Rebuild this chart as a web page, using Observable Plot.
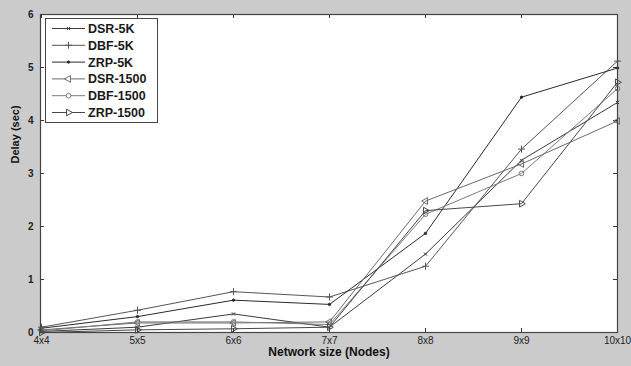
<!DOCTYPE html>
<html>
<head>
<meta charset="utf-8">
<script src="https://cdn.jsdelivr.net/npm/d3@7"></script>
<script src="https://cdn.jsdelivr.net/npm/@observablehq/plot@0.6"></script>
<style>
  html, body { margin: 0; padding: 0; background: #cbcbcb; }
  #chart { position: relative; width: 631px; height: 366px; }
  #legend { position: absolute; left: 0; top: 0; }
</style>
</head>
<body>
<div id="chart"></div>
<script>
// Network sizes (x axis) and delay in seconds per protocol / scenario
const sizes = ["4x4", "5x5", "6x6", "7x7", "8x8", "9x9", "10x10"];
const yTicks = [0, 1, 2, 3, 4, 5, 6];

const seriesNames = ["DSR-5K", "DBF-5K", "ZRP-5K", "DSR-1500", "DBF-1500", "ZRP-1500"];
const dsr5k   = [0.02, 0.10, 0.35, 0.10, 1.48, 3.25, 4.34];
const dbf5k   = [0.10, 0.42, 0.77, 0.67, 1.25, 3.46, 5.12];
const zrp5k   = [0.08, 0.30, 0.61, 0.53, 1.87, 4.44, 4.99];
const dsr1500 = [0.05, 0.18, 0.18, 0.20, 2.48, 3.18, 3.99];
const dbf1500 = [0.03, 0.20, 0.20, 0.15, 2.23, 3.00, 4.60];
const zrp1500 = [0.00, 0.05, 0.07, 0.10, 2.30, 2.43, 4.72];

// Drawing style for each series: stroke, marker symbol, rotation, size, fill
const styles = {
  "DSR-5K":   {stroke: "#3a3a3a", symbol: "times",    rotate: 0,   r: 1.6, fill: "none"},
  "DBF-5K":   {stroke: "#555",    symbol: "plus",     rotate: 0,   r: 2.4, fill: "none"},
  "ZRP-5K":   {stroke: "#2a2a2a", symbol: "circle",   rotate: 0,   r: 1.2, fill: "#2a2a2a"},
  "DSR-1500": {stroke: "#6a6a6a", symbol: "triangle", rotate: -90, r: 2.5, fill: "none"},
  "DBF-1500": {stroke: "#7a7a7a", symbol: "circle",   rotate: 0,   r: 2.3, fill: "none"},
  "ZRP-1500": {stroke: "#484848", symbol: "triangle", rotate: 90,  r: 2.5, fill: "none"}
};

const values = [dsr5k, dbf5k, zrp5k, dsr1500, dbf1500, zrp1500];
const rows = seriesNames.flatMap((name, i) =>
  sizes.map((size, j) => ({series: name, size, delay: values[i][j]}))
);

const W = 631, H = 366;
const mTop = 14, mRight = 14, mBottom = 34, mLeft = 40;
const innerW = W - mLeft - mRight;
const innerH = H - mTop - mBottom;
const tickLen = 4;

const seriesMarks = seriesNames.flatMap(name => {
  const s = styles[name];
  const data = rows.filter(d => d.series === name);
  return [
    Plot.line(data, {x: "size", y: "delay", stroke: s.stroke, strokeWidth: 1}),
    Plot.dot(data, {x: "size", y: "delay", symbol: s.symbol, r: s.r, rotate: s.rotate,
                    stroke: s.stroke, fill: s.fill === "none" ? "white" : s.fill,
                    fillOpacity: s.fill === "none" ? 0 : 1, strokeWidth: 1})
  ];
});

const plot = Plot.plot({
  width: W,
  height: H,
  marginTop: mTop,
  marginRight: mRight,
  marginBottom: mBottom,
  marginLeft: mLeft,
  style: {background: "#cbcbcb", fontFamily: "'Liberation Sans', Arial, sans-serif", color: "#222"},
  x: {type: "point", domain: sizes, padding: 0},
  y: {domain: [0, 6]},
  marks: [
    Plot.frame({fill: "white", stroke: "none"}),
    // inward ticks on all four sides
    Plot.tickY(yTicks, {y: d => d, insetRight: innerW - tickLen, stroke: "#333"}),
    Plot.tickY(yTicks, {y: d => d, insetLeft: innerW - tickLen, stroke: "#333"}),
    Plot.tickX(sizes, {x: d => d, insetTop: innerH - tickLen, stroke: "#333"}),
    Plot.tickX(sizes, {x: d => d, insetBottom: innerH - tickLen, stroke: "#333"}),
    ...seriesMarks,
    Plot.frame({stroke: "#444", strokeWidth: 1.2}),
    Plot.axisX({tickSize: 0, tickPadding: 4, fontSize: 10, label: null}),
    Plot.axisY({ticks: yTicks, tickFormat: d => String(d), tickSize: 0, tickPadding: 7, fontSize: 10, fontWeight: "bold", label: null}),
    Plot.text(["Network size (Nodes)"], {frameAnchor: "bottom", dy: 23, fontSize: 12, fontWeight: "bold", fill: "#111"}),
    Plot.text(["Delay (sec)"], {frameAnchor: "left", dx: -25, dy: -10, rotate: -90, fontSize: 11, fontWeight: "bold", fill: "#111"})
  ]
});

const chart = document.getElementById("chart");
chart.appendChild(plot);

// Legend box inside the upper-left corner of the plot area
const lg = d3.select(chart).append("svg")
  .attr("id", "legend")
  .attr("width", W).attr("height", H)
  .style("pointer-events", "none");

const box = {x: 45.5, y: 18.5, w: 112, h: 104};
lg.append("rect")
  .attr("x", box.x).attr("y", box.y).attr("width", box.w).attr("height", box.h)
  .attr("fill", "white").attr("stroke", "#444").attr("stroke-width", 1);

const symbolTypes = {times: d3.symbolTimes, plus: d3.symbolPlus, circle: d3.symbolCircle, triangle: d3.symbolTriangle};

seriesNames.forEach((name, i) => {
  const s = styles[name];
  const y = 28.5 + i * 16.8;
  const g = lg.append("g");
  g.append("line")
    .attr("x1", 52).attr("x2", 85).attr("y1", y).attr("y2", y)
    .attr("stroke", s.stroke).attr("stroke-width", 1);
  const area = Math.PI * s.r * s.r;
  g.append("path")
    .attr("d", d3.symbol(symbolTypes[s.symbol], area)())
    .attr("transform", `translate(68.5,${y}) rotate(${s.rotate})`)
    .attr("fill", s.fill === "none" ? "white" : s.fill)
    .attr("stroke", s.stroke).attr("stroke-width", 1);
  g.append("text")
    .attr("x", 88).attr("y", y).attr("dy", "0.36em")
    .attr("font-family", "'Liberation Sans', Arial, sans-serif")
    .attr("font-size", 12.5).attr("font-weight", "bold").attr("fill", "#1a1a1a")
    .text(name);
});
</script>
</body>
</html>
